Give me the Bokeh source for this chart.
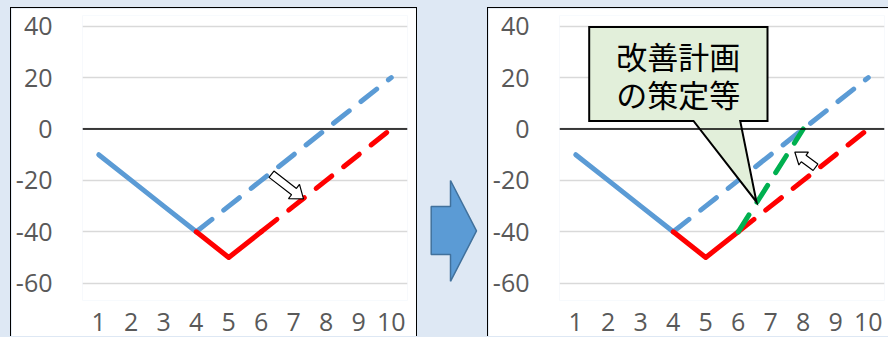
import math

from bokeh.core.properties import value
from bokeh.embed import file_html
from bokeh.layouts import row
from bokeh.models import FixedTicker, Range1d, Span
from bokeh.plotting import figure
from bokeh.resources import INLINE

# ---- data -------------------------------------------------------------
categories = [1, 2, 3, 4, 5, 6, 7, 8, 9, 10]
y_ticks = [-60, -40, -20, 0, 20, 40]

actual_x = [1, 2, 3, 4]
actual_y = [-10, -20, -30, -40]

plan_x = [4, 5, 6, 7, 8, 9, 10]
plan_y = [-40, -30, -20, -10, 0, 10, 20]

worse_x = [4, 5, 6]
worse_y = [-40, -50, -40]

worse_fc_x = [6, 7, 8, 9, 10]
worse_fc_y = [-40, -30, -20, -10, 0]

recover_x = [6, 7, 8]
recover_y = [-40, -20, 0]

callout_lines = ["改善計画", "の策定等"]

# ---- style ------------------------------------------------------------
BG = "#DEE8F4"
BLUE = "#5B9BD5"
RED = "#FF0000"
GREEN = "#00B050"
GRID = "#D9D9D9"
TICK_FONT = "Open Sans"
LW = 5
DASH = "20 15"

PX_X = 32.5   # pixels per category
PX_Y = 2.57   # pixels per y unit


def block_arrow(x0, y0, x1, y1, shaft=8, head_w=18, head_len=12):
    """Outline of a block arrow from (x0, y0) to (x1, y1), built in pixel space."""
    X0, Y0, X1, Y1 = x0 * PX_X, y0 * PX_Y, x1 * PX_X, y1 * PX_Y
    dx, dy = X1 - X0, Y1 - Y0
    L = math.hypot(dx, dy)
    ux, uy = dx / L, dy / L
    nx, ny = -uy, ux
    bx, by = X1 - ux * head_len, Y1 - uy * head_len
    pts = [
        (X0 + nx * shaft / 2, Y0 + ny * shaft / 2),
        (bx + nx * shaft / 2, by + ny * shaft / 2),
        (bx + nx * head_w / 2, by + ny * head_w / 2),
        (X1, Y1),
        (bx - nx * head_w / 2, by - ny * head_w / 2),
        (bx - nx * shaft / 2, by - ny * shaft / 2),
        (X0 - nx * shaft / 2, Y0 - ny * shaft / 2),
    ]
    return [p[0] / PX_X for p in pts], [p[1] / PX_Y for p in pts]


def make_panel(width, min_right, borders, margin):
    p = figure(
        width=width, height=329,
        x_range=Range1d(0.5, 10.5), y_range=Range1d(-66.73, 44.16),
        output_backend="svg", toolbar_location=None,
        min_border_left=71, min_border_right=min_right,
        min_border_top=7, min_border_bottom=37,
        background_fill_color="white", border_fill_color="white",
        outline_line_color=None,
        styles=borders, margin=margin,
    )
    p.xgrid.grid_line_color = None
    p.ygrid.grid_line_color = GRID
    p.ygrid.grid_line_width = 1.3
    p.yaxis.ticker = FixedTicker(ticks=y_ticks)
    p.xaxis.ticker = FixedTicker(ticks=categories)
    # plain hyphen-minus for negative tick labels
    p.yaxis.major_label_overrides = {t: str(t) for t in y_ticks}
    for ax in (p.xaxis[0], p.yaxis[0]):
        ax.axis_label = None
        ax.axis_label_standoff = 0
        ax.axis_line_color = None
        ax.major_tick_line_color = None
        ax.minor_tick_line_color = None
        ax.major_tick_out = 0
        ax.major_tick_in = 0
        ax.minor_tick_out = 0
        ax.minor_tick_in = 0
        ax.major_label_text_font = TICK_FONT
        ax.major_label_text_font_size = "25px"
        ax.major_label_text_color = "#595959"
    p.yaxis.major_label_standoff = 30
    p.xaxis.major_label_standoff = 12

    p.add_layout(Span(location=0, dimension="width", line_color="black", line_width=1.6))

    p.line(actual_x, actual_y, line_color=BLUE, line_width=LW, line_cap="round")
    p.line(plan_x, plan_y, line_color=BLUE, line_width=LW, line_cap="round", line_dash=DASH)
    p.line(worse_x, worse_y, line_color=RED, line_width=LW, line_cap="round", line_join="round")
    p.line(worse_fc_x, worse_fc_y, line_color=RED, line_width=LW, line_cap="round", line_dash=DASH)
    return p


border_3 = {"border-left": "1px solid #000", "border-top": "1px solid #000",
            "border-right": "1px solid #000"}
border_2 = {"border-left": "1px solid #000", "border-top": "1px solid #000"}

# left panel: forecast worsens
left = make_panel(407, 11, border_3, (7, 0, 0, 10))
ax_, ay_ = block_arrow(6.315, -17.6, 7.30, -27.2)
left.patch(ax_, ay_, fill_color="white", line_color="black", line_width=1.2)

# middle: big transition arrow
mid = figure(width=70, height=337, x_range=Range1d(0, 70), y_range=Range1d(337, 0),
             output_backend="svg", toolbar_location=None,
             min_border=0, outline_line_color=None,
             background_fill_color=None, border_fill_color=None)
mid.axis.visible = False
mid.grid.visible = False
mid.patch([13.7, 33, 33, 59, 33, 33, 13.7], [229, 229, 199, 257, 315, 284, 284],
          fill_color=BLUE, line_color="#41719C", line_width=1.5)

# right panel: improvement plan brings the line back
right = make_panel(401, 5, border_2, (7, 0, 0, 0))
right.line(recover_x, recover_y, line_color=GREEN, line_width=LW, line_cap="round", line_dash=DASH)
bx_, by_ = block_arrow(8.377, -14.9, 7.74, -8.95, shaft=8, head_w=16, head_len=11)
right.patch(bx_, by_, fill_color="white", line_color="black", line_width=1.2)

# speech-bubble callout
cx = [1.414, 6.9, 6.9, 6.06, 6.562, 4.623, 1.414]
cy = [39.69, 39.69, 3.11, 3.11, -28.4, 3.11, 3.11]
right.patch(cx, cy, fill_color="#E2EFDA", line_color="black", line_width=2, line_join="miter")
right.text(x=[4.157, 4.157], y=[28.7, 13.85], text=callout_lines,
           text_font=value("Noto Sans CJK JP"), text_font_size=value("31px"),
           text_align="center", text_baseline="middle", text_color="black")

layout = row(left, mid, right, spacing=0, height=337,
             styles={"background-color": BG, "overflow": "hidden"})

open("out.html", "w").write(file_html(layout, INLINE))
